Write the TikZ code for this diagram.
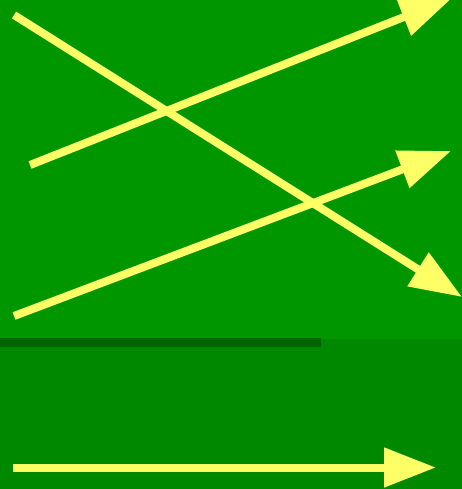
\documentclass[tikz,border=0pt]{standalone}
\usetikzlibrary{arrows.meta}
\definecolor{upgreen}{RGB}{0,150,0}
\definecolor{lowgreen}{RGB}{0,136,0}
\definecolor{stripgreen}{RGB}{0,100,0}
\definecolor{arrowyellow}{RGB}{255,255,102}
\tikzset{
  yarrow/.style={draw=arrowyellow, line width=8pt, -{Triangle[length=52pt,width=38pt]}}
}
\begin{document}
\begin{tikzpicture}[x=1pt,y=-1pt]
\useasboundingbox (0,0) rectangle (462,489);
\fill[upgreen] (0,0) rectangle (462,339);
\fill[lowgreen] (0,339) rectangle (462,489);
\fill[stripgreen] (0,338) rectangle (321,347);
\coordinate (a1s) at (14,15);
\coordinate (a1e) at (462,297);
\coordinate (a2s) at (30,165);
\coordinate (a2e) at (452,-2);
\coordinate (a3s) at (14,316);
\coordinate (a3e) at (451,151);
\coordinate (a4s) at (13,467.5);
\coordinate (a4e) at (436,467.5);
\draw[yarrow] (a1s) -- (a1e);
\draw[yarrow] (a2s) -- (a2e);
\draw[yarrow] (a3s) -- (a3e);
\draw[yarrow] (a4s) -- (a4e);
\end{tikzpicture}
\end{document}
